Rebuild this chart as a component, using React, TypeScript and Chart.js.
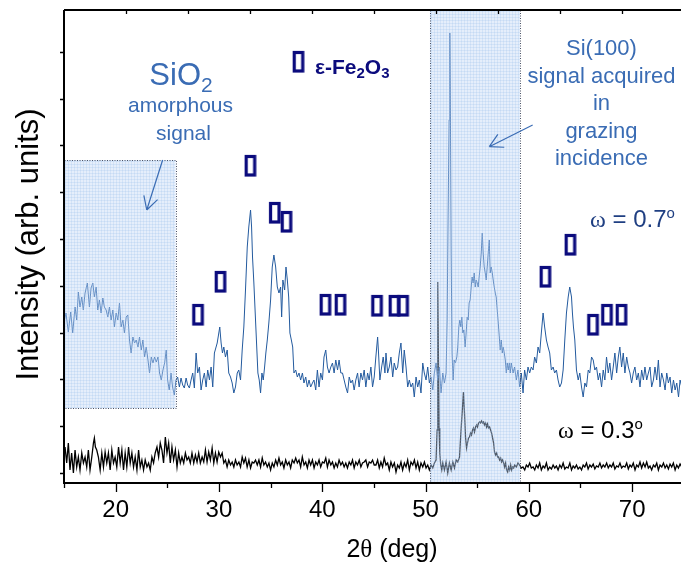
import React, { useEffect, useRef } from "react";
import { Chart, registerables } from "chart.js";

Chart.register(...registerables);

// ---------- data (2θ in degrees, intensity in arbitrary units) ----------
const blueSeries: [number, number][] = [
  [15.00,161],[15.19,170],[15.42,151],[15.65,171],[15.84,150],[16.07,176],[16.23,163],[16.39,191],[16.55,176],[16.72,186],[16.87,173],[17.04,190],[17.26,200],[17.46,176],[17.62,195],[17.79,200],[17.94,186],[18.11,196],[18.27,173],[18.43,183],[18.59,170],[18.76,185],[18.91,176],[19.08,173],[19.24,166],[19.40,176],[19.56,163],[19.73,173],[19.88,156],[20.05,170],[20.21,163],[20.37,180],[20.53,156],[20.70,163],[20.85,150],[21.02,166],[21.18,168],[21.34,143],[21.50,130],[21.67,146],[21.83,140],[21.99,143],[22.16,136],[22.31,146],[22.48,133],[22.64,143],[22.80,126],[22.96,136],[23.13,123],[23.28,110],[23.45,126],[23.61,120],[23.77,126],[23.93,121],[24.10,126],[24.25,110],[24.42,103],[24.58,113],[24.74,120],[24.90,133],[25.03,103],[25.19,93],[25.36,110],[25.51,96],[25.68,88],[25.84,103],[26.00,106],[26.17,96],[26.33,105],[26.49,98],[26.65,95],[26.82,105],[26.97,98],[27.14,95],[27.30,103],[27.46,110],[27.62,95],[27.79,130],[27.94,110],[28.11,116],[28.27,93],[28.43,103],[28.59,110],[28.76,96],[28.91,113],[29.08,103],[29.24,116],[29.40,96],[29.56,130],[29.83,140],[30.08,156],[30.21,140],[30.34,130],[30.47,136],[30.63,126],[30.80,133],[30.95,110],[31.12,106],[31.28,100],[31.44,90],[31.60,96],[31.77,110],[31.92,113],[32.09,103],[32.25,133],[32.41,156],[32.57,193],[32.74,236],[32.89,256],[33.06,273],[33.16,256],[33.25,226],[33.38,200],[33.51,170],[33.64,140],[33.77,110],[33.90,103],[34.03,90],[34.16,110],[34.29,103],[34.42,116],[34.54,130],[34.68,143],[34.83,160],[35.00,183],[35.16,216],[35.32,228],[35.49,216],[35.65,196],[35.81,190],[35.97,196],[36.07,166],[36.19,203],[36.36,193],[36.49,216],[36.62,203],[36.75,186],[36.87,150],[37.01,143],[37.14,136],[37.26,110],[37.43,113],[37.59,106],[37.75,110],[37.91,103],[38.08,110],[38.23,100],[38.40,106],[38.56,96],[38.72,103],[38.88,96],[39.05,100],[39.20,103],[39.37,93],[39.53,113],[39.69,96],[39.85,110],[40.02,103],[40.17,126],[40.34,133],[40.50,116],[40.66,110],[40.83,116],[40.99,120],[41.15,110],[41.31,123],[41.48,113],[41.63,123],[41.80,110],[41.96,110],[42.12,103],[42.28,96],[42.45,90],[42.61,106],[42.77,100],[42.93,103],[43.09,93],[43.25,103],[43.42,110],[43.57,96],[43.74,110],[43.90,103],[44.06,113],[44.22,96],[44.39,110],[44.54,103],[44.71,116],[44.87,96],[45.03,106],[45.19,126],[45.36,146],[45.45,130],[45.58,103],[45.75,116],[45.90,126],[46.07,110],[46.17,130],[46.33,110],[46.49,116],[46.65,126],[46.82,106],[46.97,120],[47.14,113],[47.30,116],[47.46,130],[47.62,140],[47.79,110],[47.94,133],[48.11,116],[48.27,96],[48.43,103],[48.59,96],[48.76,100],[48.91,86],[49.08,106],[49.24,96],[49.40,103],[49.56,90],[49.73,120],[49.88,110],[50.05,103],[50.21,116],[50.37,100],[50.53,106],[50.70,93],[50.85,110],[51.02,120],[51.18,103],[51.34,116],[51.50,90],[51.67,110],[51.83,100],[51.99,110],[52.09,163],[52.18,263],[52.28,363],[52.35,450],[52.41,363],[52.48,230],[52.57,130],[52.67,103],[52.77,123],[52.89,120],[53.03,126],[53.12,136],[53.22,156],[53.32,163],[53.42,156],[53.51,166],[53.61,150],[53.71,153],[53.83,136],[53.93,150],[54.03,166],[54.13,163],[54.22,180],[54.32,183],[54.42,196],[54.51,206],[54.61,200],[54.71,210],[54.81,196],[54.90,203],[55.00,200],[55.10,196],[55.19,206],[55.29,216],[55.39,230],[55.49,250],[55.58,230],[55.68,216],[55.78,210],[55.87,203],[55.97,216],[56.07,230],[56.17,243],[56.26,210],[56.36,216],[56.46,210],[56.55,203],[56.65,196],[56.75,190],[56.84,186],[56.94,173],[57.04,160],[57.14,146],[57.23,133],[57.33,143],[57.43,130],[57.52,136],[57.62,130],[57.72,123],[57.82,110],[57.91,120],[58.01,113],[58.11,120],[58.20,110],[58.30,120],[58.47,110],[58.62,116],[58.79,103],[58.95,113],[59.11,96],[59.27,110],[59.44,90],[59.59,113],[59.76,103],[59.92,116],[60.08,110],[60.24,116],[60.41,113],[60.56,126],[60.73,120],[60.89,136],[61.05,130],[61.21,150],[61.38,170],[61.53,156],[61.70,143],[61.86,136],[62.02,130],[62.18,113],[62.35,116],[62.50,110],[62.67,113],[62.83,103],[62.99,96],[63.16,100],[63.32,113],[63.48,143],[63.64,170],[63.81,186],[63.96,196],[64.13,186],[64.22,170],[64.32,156],[64.45,143],[64.61,113],[64.78,103],[64.93,110],[65.10,96],[65.26,86],[65.42,100],[65.58,96],[65.75,113],[65.90,110],[66.07,126],[66.23,123],[66.39,113],[66.55,116],[66.72,103],[66.87,110],[67.04,96],[67.20,113],[67.36,103],[67.52,126],[67.69,110],[67.84,120],[68.01,103],[68.17,116],[68.33,130],[68.50,110],[68.66,126],[68.81,136],[68.98,116],[69.14,130],[69.30,110],[69.47,126],[69.63,116],[69.79,110],[69.95,100],[70.11,110],[70.27,116],[70.44,103],[70.60,110],[70.76,96],[70.92,113],[71.09,103],[71.24,116],[71.41,103],[71.57,110],[71.73,116],[71.89,96],[72.06,103],[72.21,116],[72.38,103],[72.54,123],[72.70,96],[72.86,110],[73.03,103],[73.19,93],[73.35,110],[73.51,100],[73.67,106],[73.83,90],[74.00,103],[74.16,93],[74.32,100],[74.49,86],[74.64,103],[74.81,96]
];

const blackSeries: [number, number][] = [
  [15.10,36],[15.26,20],[15.42,40],[15.58,13],[15.74,30],[15.91,10],[16.07,33],[16.23,16],[16.39,26],[16.55,13],[16.72,30],[16.88,20],[17.04,26],[17.20,16],[17.36,33],[17.52,13],[17.69,26],[17.85,40],[17.94,45],[18.04,36],[18.17,33],[18.33,26],[18.50,13],[18.66,30],[18.82,16],[18.98,31],[19.14,20],[19.30,30],[19.47,13],[19.63,33],[19.79,20],[19.95,26],[20.11,16],[20.28,36],[20.44,20],[20.60,33],[20.76,13],[20.92,30],[21.08,16],[21.25,36],[21.41,20],[21.57,30],[21.73,16],[21.89,26],[22.06,13],[22.22,33],[22.38,16],[22.54,23],[22.70,13],[22.86,23],[23.03,16],[23.19,20],[23.35,13],[23.51,26],[23.67,20],[23.83,30],[24.00,36],[24.16,26],[24.32,40],[24.48,33],[24.64,20],[24.81,46],[24.97,30],[25.13,40],[25.29,20],[25.45,36],[25.61,23],[25.78,33],[25.94,16],[26.10,30],[26.26,20],[26.42,26],[26.59,20],[26.75,30],[26.91,23],[27.07,26],[27.23,20],[27.39,30],[27.56,20],[27.72,28],[27.88,21],[28.04,30],[28.20,20],[28.37,26],[28.53,21],[28.69,33],[28.85,21],[29.01,31],[29.17,23],[29.34,35],[29.50,20],[29.66,30],[29.82,21],[29.98,31],[30.15,26],[30.31,30],[30.47,20],[30.63,23],[30.79,16],[30.95,23],[31.12,18],[31.28,21],[31.44,16],[31.60,23],[31.76,18],[31.93,21],[32.09,16],[32.25,26],[32.41,20],[32.57,25],[32.73,16],[32.90,23],[33.06,15],[33.22,21],[33.38,20],[33.54,23],[33.71,18],[33.87,23],[34.03,16],[34.19,25],[34.35,18],[34.51,21],[34.68,16],[34.84,20],[35.00,13],[35.16,20],[35.32,16],[35.49,23],[35.65,18],[35.81,25],[35.97,18],[36.13,21],[36.29,15],[36.46,23],[36.62,18],[36.78,21],[36.94,15],[37.10,23],[37.27,20],[37.43,25],[37.59,20],[37.75,23],[37.91,16],[38.07,26],[38.24,18],[38.40,21],[38.56,15],[38.72,23],[38.88,18],[39.05,23],[39.21,15],[39.37,21],[39.53,18],[39.69,23],[39.85,16],[40.02,21],[40.18,20],[40.34,25],[40.50,16],[40.66,23],[40.83,18],[40.99,21],[41.15,15],[41.31,20],[41.47,16],[41.63,23],[41.80,18],[41.96,21],[42.12,16],[42.28,20],[42.44,15],[42.61,21],[42.77,18],[42.93,23],[43.09,15],[43.25,21],[43.41,18],[43.58,23],[43.74,16],[43.90,20],[44.06,21],[44.22,23],[44.39,16],[44.55,21],[44.71,20],[44.87,23],[45.03,18],
  [45.20,18],[45.36,23],[45.52,15],[45.68,21],[45.84,16],[46.00,25],[46.17,18],[46.33,20],[46.49,13],[46.65,21],[46.81,16],[46.98,20],[47.14,11],[47.30,18],[47.46,15],[47.62,21],[47.78,13],[47.95,20],[48.11,16],[48.27,23],[48.43,13],[48.59,21],[48.76,18],[48.92,23],[49.08,15],[49.24,21],[49.40,13],[49.56,20],[49.73,16],[49.89,21],[50.05,15],[50.21,18],[50.37,13],[50.54,18],[50.70,15],[50.86,20],[51.02,23],[51.12,53],[51.16,130],[51.20,201],[51.25,120],[51.31,55],[51.38,30],[51.47,18],[51.57,13],[51.67,20],[51.83,13],[51.99,21],[52.15,10],[52.31,20],[52.48,13],[52.64,21],[52.80,15],[52.96,23],[53.12,21],[53.29,26],[53.38,43],[53.48,60],[53.58,76],[53.67,91],[53.77,70],[53.87,46],[53.97,35],[54.06,40],[54.16,45],[54.26,46],[54.35,50],[54.45,48],[54.55,53],[54.64,55],[54.74,51],[54.84,56],[54.94,58],[55.03,56],[55.13,60],[55.23,61],[55.33,60],[55.42,62],[55.52,60],[55.62,61],[55.71,58],[55.81,60],[55.91,56],[56.00,59],[56.10,55],[56.20,56],[56.30,53],[56.39,50],[56.49,45],[56.59,40],[56.68,31],[56.78,28],[56.88,30],[56.98,26],[57.07,26],[57.17,23],[57.27,25],[57.36,21],[57.46,23],[57.56,20],[57.65,16],[57.75,20],[57.85,13],[57.95,11],[58.04,16],[58.14,13],[58.24,18],[58.33,13],[58.43,16],[58.53,15],[58.63,18],[58.79,16],[58.95,20],[59.11,18],[59.27,15],[59.43,16],[59.60,13],[59.76,18],[59.92,16],[60.08,20],[60.24,15],[60.41,16],[60.57,13],[60.73,18],[60.89,15],[61.05,20],[61.21,13],[61.38,17],[61.54,15],[61.70,20],[61.86,13],[62.02,16],[62.19,14],[62.35,18],[62.51,15],[62.67,17],[62.83,13],[63.00,18],[63.16,15],[63.32,20],[63.48,14],[63.64,16],[63.80,15],[63.97,20],[64.13,13],[64.29,17],[64.45,15],[64.61,18],[64.77,14],[64.94,16],[65.10,13],[65.26,18],[65.42,16],[65.58,20],[65.74,14],[65.91,18],[66.07,16],[66.23,19],[66.39,14],[66.55,17],[66.72,16],[66.88,20],[67.04,15],[67.20,18],[67.36,16],[67.53,20],[67.69,15],[67.85,18],[68.01,16],[68.17,20],[68.33,14],[68.50,17],[68.66,16],[68.82,20],[68.98,15],[69.14,17],[69.31,16],[69.47,20],[69.63,14],[69.79,18],[69.95,16],[70.11,20],[70.28,13],[70.44,18],[70.60,16],[70.76,21],[70.92,15],[71.09,20],[71.25,16],[71.41,21],[71.57,15],[71.73,17],[71.89,13],[72.06,18],[72.22,16],[72.38,20],[72.54,13],[72.70,18],[72.87,16],[73.03,20],[73.19,15],[73.35,18],[73.51,14],[73.67,19],[73.83,16],[73.99,20],[74.16,13],[74.32,18],[74.48,15],[74.64,19],[74.81,16]
];

// ε-Fe2O3 reflection markers (2θ, height where drawn)
const feMarkers: [number, number][] = [
  [28.00,168],[30.17,201],[33.07,317],[35.43,270],[36.56,261],[40.33,178],[41.79,178],
  [45.33,177],[47.01,177],[47.85,177],[61.63,206],[64.05,238],[66.24,158],[67.59,168],[68.99,168]
];
const legendMarker: [number, number][] = [[37.72,421]];

// axes
const X_MIN = 15;
const X_MAX = 74.73;
const Y_MIN = 0;
const Y_MAX = 473;
const xTickLabels = [20, 30, 40, 50, 60, 70];
const xMinorTicks = [15, 25, 35, 45, 55, 65];
const topTicks = [21, 27, 33, 39, 45, 51, 57, 63, 69];
const yTicks = [10, 56.8, 103.6, 150.4, 197.2, 244, 290.8, 337.6, 384.4, 431.2];

// shaded regions [x1, x2, y1, y2]
const sio2Region = [15, 25.81, 74.7, 323];
const siRegion = [50.43, 59.14, 0, 473];

const SANS = '"Liberation Sans", Arial, sans-serif';
const SERIF = '"Liberation Serif", "Times New Roman", serif';
const LABEL_BLUE = "#3a6cb4";
const NAVY = "#0b0b7d";

type Run = { t: string; font: string; dy?: number };

function drawRuns(ctx: CanvasRenderingContext2D, runs: Run[], x: number, y: number, align: "left" | "center", color: string) {
  ctx.save();
  ctx.fillStyle = color;
  ctx.textBaseline = "alphabetic";
  ctx.textAlign = "left";
  let total = 0;
  for (const r of runs) { ctx.font = r.font; total += ctx.measureText(r.t).width; }
  let cx = align === "center" ? x - total / 2 : x;
  for (const r of runs) {
    ctx.font = r.font;
    ctx.fillText(r.t, cx, y + (r.dy || 0));
    cx += ctx.measureText(r.t).width;
  }
  ctx.restore();
}

function drawArrow(ctx: CanvasRenderingContext2D, x1: number, y1: number, x2: number, y2: number, color: string) {
  ctx.save();
  ctx.strokeStyle = color;
  ctx.lineWidth = 1.2;
  ctx.beginPath();
  ctx.moveTo(x1, y1);
  ctx.lineTo(x2, y2);
  const ang = Math.atan2(y1 - y2, x1 - x2);
  for (const s of [-1, 1]) {
    const a = ang + s * 0.5;
    ctx.moveTo(x2, y2);
    ctx.lineTo(x2 + 15 * Math.cos(a), y2 + 15 * Math.sin(a));
  }
  ctx.stroke();
  ctx.restore();
}

function hatchBox(ctx: CanvasRenderingContext2D, x1: number, y1: number, x2: number, y2: number) {
  ctx.save();
  ctx.fillStyle = "rgba(192,214,246,0.42)";
  ctx.fillRect(x1, y1, x2 - x1, y2 - y1);
  ctx.beginPath();
  ctx.rect(x1, y1, x2 - x1, y2 - y1);
  ctx.clip();
  ctx.strokeStyle = "rgba(140,178,228,0.2)";
  ctx.lineWidth = 1;
  ctx.beginPath();
  for (let x = Math.round(x1) + 1.5; x < x2; x += 3) { ctx.moveTo(x, y1); ctx.lineTo(x, y2); }
  for (let y = Math.round(y1) + 1.5; y < y2; y += 3) { ctx.moveTo(x1, y); ctx.lineTo(x2, y); }
  ctx.stroke();
  ctx.restore();
  ctx.save();
  ctx.strokeStyle = "#4a5266";
  ctx.lineWidth = 1;
  ctx.setLineDash([1, 1.5]);
  ctx.strokeRect(Math.round(x1) + 0.5, Math.round(y1) + 0.5, Math.round(x2 - x1), Math.round(y2 - y1));
  ctx.restore();
}

function makeMarker(): HTMLCanvasElement {
  const c = document.createElement("canvas");
  c.width = 14;
  c.height = 24;
  const g = c.getContext("2d")!;
  g.strokeStyle = NAVY;
  g.lineWidth = 3.2;
  g.strokeRect(2.5, 2.5, 8.5, 18.5);
  return c;
}

const decorPlugin = {
  id: "decor",
  afterDatasetsDraw(chart: any) {
    const ctx: CanvasRenderingContext2D = chart.ctx;
    const xs = chart.scales.x;
    const ys = chart.scales.y;
    const [a1, a2, b1, b2] = sio2Region;
    hatchBox(ctx, xs.getPixelForValue(a1), ys.getPixelForValue(b2), xs.getPixelForValue(a2), ys.getPixelForValue(b1));
    const [c1, c2, d1, d2] = siRegion;
    hatchBox(ctx, xs.getPixelForValue(c1), ys.getPixelForValue(d2), xs.getPixelForValue(c2), ys.getPixelForValue(d1));
  },
  afterDraw(chart: any) {
    const ctx: CanvasRenderingContext2D = chart.ctx;
    const xs = chart.scales.x;
    const ys = chart.scales.y;
    const area = chart.chartArea;
    const X = (v: number) => xs.getPixelForValue(v);
    const Y = (v: number) => ys.getPixelForValue(v);

    // axes frame
    ctx.save();
    ctx.strokeStyle = "#000";
    ctx.lineWidth = 2;
    ctx.beginPath();
    ctx.moveTo(area.left, area.top);
    ctx.lineTo(area.left, area.bottom);
    ctx.lineTo(chart.width, area.bottom);
    ctx.moveTo(area.left, area.top);
    ctx.lineTo(chart.width, area.top);
    ctx.stroke();
    ctx.lineWidth = 1.3;
    ctx.beginPath();
    for (const v of xTickLabels) { const px = Math.round(X(v)) + 0.5; ctx.moveTo(px, area.bottom); ctx.lineTo(px, area.bottom + 9); }
    for (const v of xMinorTicks) { const px = Math.round(X(v)) + 0.5; ctx.moveTo(px, area.bottom); ctx.lineTo(px, area.bottom + 5); }
    for (const v of topTicks) { const px = Math.round(X(v)) + 0.5; ctx.moveTo(px, area.top); ctx.lineTo(px, area.top + 4); }
    for (const v of yTicks) { const py = Math.round(Y(v)) + 0.5; ctx.moveTo(area.left, py); ctx.lineTo(area.left - 4, py); }
    ctx.stroke();
    ctx.restore();

    // axis titles
    ctx.save();
    ctx.translate(38, (area.top + area.bottom) / 2 - 2);
    ctx.rotate(-Math.PI / 2);
    ctx.fillStyle = "#000";
    ctx.font = `31px ${SANS}`;
    ctx.textAlign = "center";
    ctx.textBaseline = "alphabetic";
    ctx.fillText("Intensity (arb. units)", 0, 0);
    ctx.restore();
    drawRuns(ctx, [
      { t: "2", font: `25px ${SANS}` },
      { t: "θ", font: `25px ${SERIF}` },
      { t: " (deg)", font: `25px ${SANS}` },
    ], 392, 557, "center", "#000");

    // SiO2 annotation
    drawRuns(ctx, [
      { t: "SiO", font: `31px ${SANS}` },
      { t: "2", font: `21px ${SANS}`, dy: 7 },
    ], X(26.33), Y(398), "center", LABEL_BLUE);
    drawRuns(ctx, [{ t: "amorphous", font: `21px ${SANS}` }], X(26.28), Y(371), "center", LABEL_BLUE);
    drawRuns(ctx, [{ t: "signal", font: `21px ${SANS}` }], X(26.57), Y(343), "center", LABEL_BLUE);
    drawArrow(ctx, X(24.55), Y(323), X(23.01), Y(273), LABEL_BLUE);

    // legend entry
    drawRuns(ctx, [
      { t: "ε-Fe", font: `bold 21px ${SANS}` },
      { t: "2", font: `bold 15px ${SANS}`, dy: 4 },
      { t: "O", font: `bold 21px ${SANS}` },
      { t: "3", font: `bold 15px ${SANS}`, dy: 4 },
    ], X(39.3), Y(409), "left", NAVY);

    // Si(100) annotation
    const siLines = ["Si(100)", "signal acquired", "in", "grazing", "incidence"];
    const siBase = [428, 400.5, 373, 345.5, 318];
    siLines.forEach((t, i) => drawRuns(ctx, [{ t, font: `22px ${SANS}` }], X(67.03), Y(siBase[i]), "center", LABEL_BLUE));
    drawArrow(ctx, X(60.37), Y(358), X(56.17), Y(336.3), LABEL_BLUE);

    // omega labels
    drawRuns(ctx, [
      { t: "ω", font: `24px ${SERIF}` },
      { t: " = 0.7", font: `24px ${SANS}` },
      { t: "o", font: `15px ${SANS}`, dy: -9 },
    ], X(65.92), Y(256), "left", "#1f3f82");
    drawRuns(ctx, [
      { t: "ω", font: `24px ${SERIF}` },
      { t: " = 0.3", font: `24px ${SANS}` },
      { t: "o", font: `15px ${SANS}`, dy: -9 },
    ], X(62.82), Y(45), "left", "#000");
  },
};

export default function App() {
  const ref = useRef<HTMLCanvasElement>(null);
  useEffect(() => {
    const canvas = ref.current!;
    const marker = makeMarker();
    const chart = new Chart(canvas, {
      type: "line",
      data: {
        datasets: [
          {
            label: "ω = 0.7°",
            data: blueSeries.map(([x, y]) => ({ x, y })),
            borderColor: "#235a9e",
            borderWidth: 1,
            pointRadius: 0,
            tension: 0,
          },
          {
            label: "ω = 0.3°",
            data: blackSeries.map(([x, y]) => ({ x, y })),
            borderColor: "#000000",
            borderWidth: 1.3,
            pointRadius: 0,
            tension: 0,
          },
          {
            label: "ε-Fe2O3",
            data: feMarkers.map(([x, y]) => ({ x, y })),
            showLine: false,
            pointStyle: marker as any,
            pointRadius: 5,
          },
          {
            label: "legend",
            data: legendMarker.map(([x, y]) => ({ x, y })),
            showLine: false,
            pointStyle: marker as any,
            pointRadius: 5,
          },
        ],
      },
      options: {
        animation: false,
        responsive: false,
        maintainAspectRatio: false,
        layout: { autoPadding: false, padding: { top: 10, right: 0, left: 0, bottom: 0 } },
        plugins: { legend: { display: false }, tooltip: { enabled: false } },
        scales: {
          x: {
            type: "linear",
            min: X_MIN,
            max: X_MAX,
            grid: { display: false, drawTicks: false },
            border: { display: false },
            ticks: {
              color: "#000",
              font: { family: SANS, size: 24 },
              padding: 13,
              maxRotation: 0,
              autoSkip: false,
            },
            afterBuildTicks: (s: any) => { s.ticks = xTickLabels.map((v) => ({ value: v })); },
            afterFit: (s: any) => { s.height = 85; s.paddingLeft = 0; s.paddingRight = 0; },
          },
          y: {
            type: "linear",
            min: Y_MIN,
            max: Y_MAX,
            grid: { display: false, drawTicks: false },
            border: { display: false },
            ticks: { display: false },
            afterFit: (s: any) => { s.width = 64; s.paddingTop = 0; s.paddingBottom = 0; },
          },
        },
      } as any,
      plugins: [decorPlugin],
    });
    return () => chart.destroy();
  }, []);
  return (
    <div style={{ position: "absolute", left: 0, top: 0, width: 681, height: 568, background: "#fff" }}>
      <canvas ref={ref} width={681} height={568} style={{ width: 681, height: 568 }} />
    </div>
  );
}
